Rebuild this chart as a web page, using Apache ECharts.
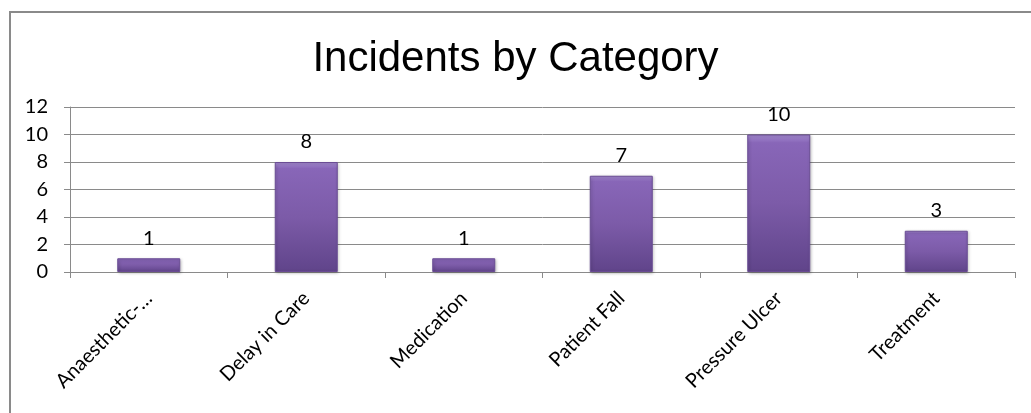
<!DOCTYPE html>
<html><head><meta charset="utf-8">
<script src="https://cdn.jsdelivr.net/npm/echarts@6/dist/echarts.min.js"></script>
<style>html,body{margin:0;padding:0;background:#fff;overflow:hidden}#c{width:1031px;height:413px}</style>
</head><body><div id="c"></div>
<script>
const categories = ['Anaesthetic-…', 'Delay in Care', 'Medication', 'Patient Fall', 'Pressure Ulcer', 'Treatment'];
const values = [1, 8, 1, 7, 10, 3];
const yTicks = [0, 2, 4, 6, 8, 10, 12];
const titleText = 'Incidents by Category';

const chart = echarts.init(document.getElementById('c'));
const tickFont = 'Lato, "Open Sans", sans-serif';
chart.setOption({
  animation: false,
  backgroundColor: '#fff',
  graphic: [{
    type: 'polyline', silent: true, z: -1,
    shape: {points: [[10, 413], [10, 12], [1031, 12]]},
    style: {fill: 'none', stroke: '#8a8a8a', lineWidth: 2}
  }],
  title: {
    text: titleText, left: 'center', top: 33,
    textStyle: {fontFamily: '"Liberation Sans", Arial, sans-serif', fontSize: 42, fontWeight: 'normal', color: '#000'}
  },
  grid: {left: 70, right: 16, top: 107, bottom: 141},
  xAxis: {
    type: 'category', data: categories,
    axisLine: {lineStyle: {color: '#8a8a8a', width: 1}},
    axisTick: {show: true, alignWithLabel: false, length: 6, lineStyle: {color: '#8a8a8a'}},
    axisLabel: {rotate: 45, interval: 0, margin: 23, color: '#000', fontSize: 20, fontFamily: tickFont}
  },
  yAxis: {
    type: 'value', min: yTicks[0], max: yTicks[yTicks.length - 1], interval: 2,
    axisLine: {show: true, lineStyle: {color: '#8a8a8a'}},
    axisTick: {show: true, length: 6, lineStyle: {color: '#8a8a8a'}},
    splitLine: {lineStyle: {color: '#8a8a8a', width: 1}},
    axisLabel: {color: '#000', fontSize: 20, fontFamily: tickFont, margin: 22}
  },
  series: [{
    type: 'bar', data: values, barCategoryGap: '60%',
    itemStyle: {
      color: new echarts.graphic.LinearGradient(0, 0, 0, 1, [
        {offset: 0, color: '#a68cd2'},
        {offset: 0.06, color: '#8866b8'},
        {offset: 0.5, color: '#7c5ba8'},
        {offset: 1, color: '#60448a'}
      ]),
      borderColor: '#6a4c94', borderWidth: 1,
      shadowColor: 'rgba(0,0,0,0.25)', shadowBlur: 3, shadowOffsetX: 1, shadowOffsetY: 1
    },
    label: {show: true, position: 'top', distance: 10, color: '#000', fontSize: 20, fontFamily: tickFont}
  }]
});
</script></body></html>
